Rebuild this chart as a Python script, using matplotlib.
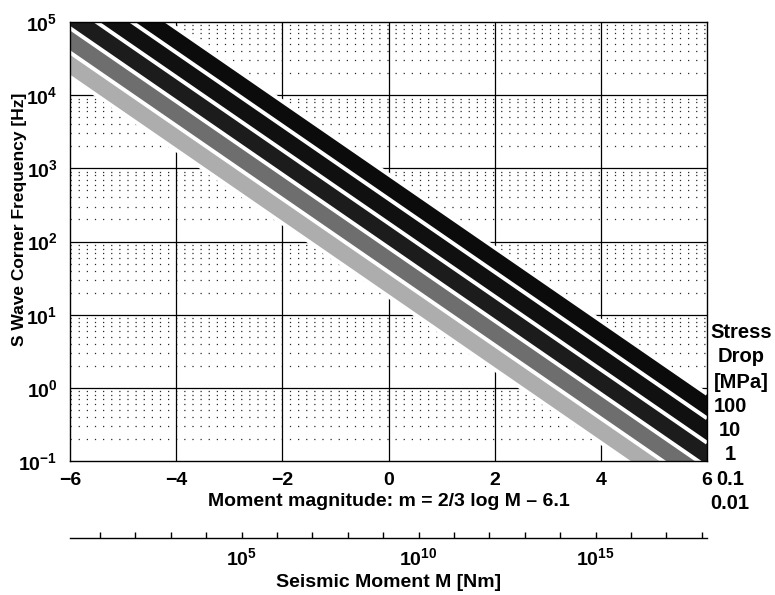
import numpy as np
import matplotlib
matplotlib.use("Agg")
import matplotlib.pyplot as plt
from matplotlib.ticker import FixedLocator, FixedFormatter, NullFormatter

plt.rcParams["font.family"] = ["Liberation Sans", "DejaVu Sans"]
plt.rcParams["font.weight"] = "bold"
plt.rcParams["mathtext.fontset"] = "custom"
plt.rcParams["mathtext.rm"] = "Liberation Sans:bold"
plt.rcParams["mathtext.it"] = "Liberation Sans:bold"
plt.rcParams["mathtext.bf"] = "Liberation Sans:bold"
plt.rcParams["mathtext.default"] = "rm"

# Stress drop families and the corner frequency of each band's centre line
# at the two ends of the magnitude range.
stress_drop_mpa = ["100", "10", "1", "0.1", "0.01"]
magnitude_ends = [-6.0, 6.0]
fc_at_m_minus6_hz = [5.62e5, 2.61e5, 1.21e5, 5.62e4, 2.61e4]
fc_at_m6_hz = [0.562, 0.261, 0.121, 0.0562, 0.0261]
band_colors = ["#0b0b0b", "#101010", "#1c1c1c", "#6e6e6e", "#adadad"]

x_ticks = [-6, -4, -2, 0, 2, 4, 6]
y_decades = [-1, 0, 1, 2, 3, 4, 5]
moment_label_decades = [5, 10, 15]
moment_decades = list(range(1, 19))

BAND_HALF_WIDTH = 1.0 / 6.0  # decades


def m_to_moment(m):
    return 10.0 ** (1.5 * (np.asarray(m, dtype=float) + 6.1))


def moment_to_m(M):
    M = np.clip(np.asarray(M, dtype=float), 1e-300, None)
    return (2.0 / 3.0) * np.log10(M) - 6.1


W, H = 775, 595
fig = plt.figure(figsize=(W / 100, H / 100), dpi=100)
ax = fig.add_axes([70 / W, 1 - 461 / H, (707 - 70) / W, (461 - 22) / H])
ax.set_yscale("log")
ax.set_xlim(-6, 6)
ax.set_ylim(1e-1, 1e5)

# grid: solid at decades / every 2 magnitude units, dotted at minor decades
for xv in x_ticks[1:-1]:
    ax.axvline(xv, color="black", lw=0.9, zorder=0.5)
for d in y_decades[1:-1]:
    ax.axhline(10.0 ** d, color="black", lw=0.9, zorder=0.5)
for d in y_decades[:-1]:
    for k in range(2, 10):
        ax.axhline(k * 10.0 ** d, color="#2a2a2a", lw=0.9,
                   linestyle=(0, (1, 5.5)), zorder=0.4)

m = np.array(magnitude_ends)
centers = []
for fl, fr, col in zip(fc_at_m_minus6_hz, fc_at_m6_hz, band_colors):
    c = np.log10([fl, fr])
    centers.append(c)
    ax.fill_between(m, 10 ** (c - BAND_HALF_WIDTH), 10 ** (c + BAND_HALF_WIDTH),
                    color=col, linewidth=0, zorder=1)
# white separators along every band edge
edges = [c + BAND_HALF_WIDTH for c in centers] + [centers[-1] - BAND_HALF_WIDTH]
for e in edges:
    ax.plot(m, 10 ** e, color="white", lw=2.8, zorder=2, solid_capstyle="butt")

for s in ax.spines.values():
    s.set_linewidth(1.0)
    s.set_zorder(3)

ax.set_xticks(x_ticks)
ax.set_xticklabels([("\u2212%d" % -v) if v < 0 else "%d" % v for v in x_ticks])
ax.yaxis.set_major_locator(FixedLocator([10.0 ** d for d in y_decades]))
ax.yaxis.set_major_formatter(FixedFormatter(["$10^{%d}$" % d for d in y_decades]))
ax.yaxis.set_minor_locator(FixedLocator([]))
ax.tick_params(axis="both", which="both", length=0, labelsize=14)
ax.tick_params(axis="x", pad=8)
ax.tick_params(axis="y", pad=9)

ax.set_xlabel("Moment magnitude: m = 2/3 log M \u2013 6.1", fontsize=14,
              fontweight="bold", labelpad=3)
ax.set_ylabel("S Wave Corner Frequency [Hz]", fontsize=12.5, fontweight="bold")
ax.yaxis.set_label_coords(-0.068, 0.55)

# stress drop labels at the right end of each band
x_lab = 6.0 + 23.0 / ((707 - 70) / 12.0)
for lab, c in zip(stress_drop_mpa, centers):
    ax.text(x_lab, 10 ** c[1], lab, clip_on=False,
            ha="center", va="center", fontsize=14.5, fontweight="bold")

for line, ypix in zip(["Stress", "Drop", "[MPa]"], [332, 357, 382]):
    fig.text(741 / W, 1 - ypix / H, line, ha="center", va="center",
             fontsize=14.5, fontweight="bold")

# seismic moment axis below
sec = ax.secondary_xaxis(-0.175, functions=(m_to_moment, moment_to_m))
sec.xaxis.set_major_locator(FixedLocator([10.0 ** d for d in moment_label_decades]))
sec.xaxis.set_major_formatter(FixedFormatter(["$10^{%d}$" % d for d in moment_label_decades]))
sec.xaxis.set_minor_locator(FixedLocator([10.0 ** d for d in moment_decades
                                          if d not in moment_label_decades]))
sec.xaxis.set_minor_formatter(NullFormatter())
sec.tick_params(axis="x", which="both", direction="in", length=4, width=1.0,
                labelsize=14, pad=7)
sec.spines["bottom"].set_linewidth(1.0)
sec.set_xlabel("Seismic Moment M [Nm]", fontsize=14, fontweight="bold", labelpad=3)

fig.savefig("out.png", dpi=100)
